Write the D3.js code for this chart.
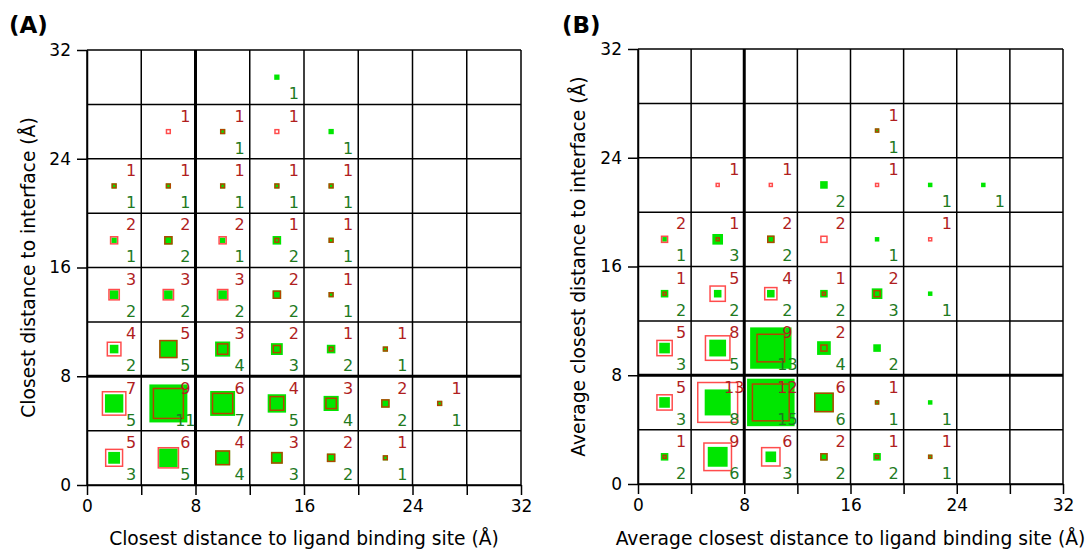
<!DOCTYPE html>
<html>
<head>
<meta charset="utf-8">
<script src="https://cdn.jsdelivr.net/npm/d3@7"></script>
<style>
    body { margin: 0; background: #fff; }
    text { font-family: "DejaVu Sans", sans-serif; }
</style>
</head>
<body>
<div id="chart"></div>
<script>

// bin centres along both axes (Å)
const binCentres = [2, 6, 10, 14, 18, 22, 26, 30];
const gridLines = [0, 4, 8, 12, 16, 20, 24, 28, 32];
const tickLabels = [0, 8, 16, 24, 32];

// counts per bin: rows run from y = 2 (bottom) up to y = 30 (top), columns x = 2 ... 30
const redA = [
    [5, 6, 4, 3, 2, 1, 0, 0],
    [7, 9, 6, 4, 3, 2, 1, 0],
    [4, 5, 3, 2, 1, 1, 0, 0],
    [3, 3, 3, 2, 1, 0, 0, 0],
    [2, 2, 2, 1, 1, 0, 0, 0],
    [1, 1, 1, 1, 1, 0, 0, 0],
    [0, 1, 1, 1, 0, 0, 0, 0],
    [0, 0, 0, 0, 0, 0, 0, 0]
];
const greenA = [
    [3, 5, 4, 3, 2, 1, 0, 0],
    [5, 11, 7, 5, 4, 2, 1, 0],
    [2, 5, 4, 3, 2, 1, 0, 0],
    [2, 2, 2, 2, 1, 0, 0, 0],
    [1, 2, 1, 2, 1, 0, 0, 0],
    [1, 1, 1, 1, 1, 0, 0, 0],
    [0, 0, 1, 0, 1, 0, 0, 0],
    [0, 0, 0, 1, 0, 0, 0, 0]
];
const redB = [
    [1, 9, 6, 2, 1, 1, 0, 0],
    [5, 13, 12, 6, 1, 0, 0, 0],
    [5, 8, 9, 2, 0, 0, 0, 0],
    [1, 5, 4, 1, 2, 0, 0, 0],
    [2, 1, 2, 2, 0, 1, 0, 0],
    [0, 1, 1, 0, 1, 0, 0, 0],
    [0, 0, 0, 0, 1, 0, 0, 0],
    [0, 0, 0, 0, 0, 0, 0, 0]
];
const greenB = [
    [2, 6, 3, 2, 2, 1, 0, 0],
    [3, 8, 15, 6, 1, 1, 0, 0],
    [3, 5, 13, 4, 2, 0, 0, 0],
    [2, 2, 2, 2, 3, 1, 0, 0],
    [1, 3, 2, 0, 1, 0, 0, 0],
    [0, 0, 0, 2, 0, 1, 1, 0],
    [0, 0, 0, 0, 1, 0, 0, 0],
    [0, 0, 0, 0, 0, 0, 0, 0]
];

const panelLetters = ["(A)", "(B)"];
const xTitles = ["Closest distance to ligand binding site (Å)", "Average closest distance to ligand binding site (Å)"];
const yTitles = ["Closest distance to interface (Å)", "Average closest distance to interface (Å)"];


class CountGrid {

    constructor(svg, red, green, opts) {
        this.svg = svg;
        this.red = red;
        this.green = green;
        this.opts = opts;
        this.initVis();
    }

    initVis() {
        let vis = this;
        let o = vis.opts;

        vis.x = d3.scaleLinear().domain([0, 32]).range([o.left, o.right]);
        vis.y = d3.scaleLinear().domain([0, 32]).range([o.bottom, o.top]);
        // outer side of a marker in px
        vis.size = d3.scaleLinear().domain([1, o.maxCount]).range([o.minSide, o.maxSide]);

        vis.g = vis.svg.append("g");

        // flatten the matrices into cells
        vis.cells = [];
        binCentres.forEach((cy, i) => {
            binCentres.forEach((cx, j) => {
                vis.cells.push({x: cx, y: cy, red: vis.red[i][j], green: vis.green[i][j]});
            });
        });

        vis.updateVis();
    }

    updateVis() {
        let vis = this;
        let o = vis.opts;
        let redStroke = 1.5;

        // grid
        vis.g.selectAll(".vline").data(gridLines).enter().append("line")
            .attr("x1", d => vis.x(d)).attr("x2", d => vis.x(d))
            .attr("y1", vis.y(0)).attr("y2", vis.y(32))
            .attr("stroke", "#000")
            .attr("stroke-width", d => d === 8 ? 3 : 1.5);
        vis.g.selectAll(".hline").data(gridLines).enter().append("line")
            .attr("y1", d => vis.y(d)).attr("y2", d => vis.y(d))
            .attr("x1", vis.x(0)).attr("x2", vis.x(32))
            .attr("stroke", "#000")
            .attr("stroke-width", d => d === 8 ? 3 : 1.5);

        // axes
        let xAxis = vis.g.append("g")
            .attr("transform", "translate(0," + vis.y(0) + ")")
            .call(d3.axisBottom(vis.x).tickValues(gridLines)
                .tickFormat(d => tickLabels.includes(d) ? d : "")
                .tickSize(10).tickSizeOuter(0).tickPadding(5));
        let yAxis = vis.g.append("g")
            .attr("transform", "translate(" + vis.x(0) + ",0)")
            .call(d3.axisLeft(vis.y).tickValues(tickLabels)
                .tickSize(10).tickSizeOuter(0).tickPadding(6));
        [xAxis, yAxis].forEach(a => {
            a.selectAll("path").attr("stroke-width", 1.5);
            a.selectAll("line").attr("stroke-width", 1.5);
            a.selectAll("text").attr("font-size", 17).attr("font-family", "DejaVu Sans").attr("fill", "#000");
        });

        // green filled squares underneath
        vis.g.selectAll(".green").data(vis.cells.filter(d => d.green > 0)).enter().append("rect")
            .attr("x", d => vis.x(d.x) - vis.size(d.green) / 2)
            .attr("y", d => vis.y(d.y) - vis.size(d.green) / 2)
            .attr("width", d => vis.size(d.green))
            .attr("height", d => vis.size(d.green))
            .attr("fill", "#00e600");

        // red open squares on top
        vis.g.selectAll(".red").data(vis.cells.filter(d => d.red > 0)).enter().append("rect")
            .attr("x", d => vis.x(d.x) - (vis.size(d.red) - redStroke) / 2)
            .attr("y", d => vis.y(d.y) - (vis.size(d.red) - redStroke) / 2)
            .attr("width", d => vis.size(d.red) - redStroke)
            .attr("height", d => vis.size(d.red) - redStroke)
            .attr("fill", "none")
            .attr("stroke", "red")
            .attr("stroke-opacity", 0.7)
            .attr("stroke-width", redStroke);

        // count labels
        vis.g.selectAll(".redLabel").data(vis.cells.filter(d => d.red > 0)).enter().append("text")
            .attr("x", d => vis.x(d.x + 1.25))
            .attr("y", d => vis.y(d.y + 1.15))
            .attr("dy", "0.36em")
            .attr("text-anchor", "middle")
            .attr("font-size", 16)
            .attr("fill", "#b01e1e")
            .text(d => d.red);
        vis.g.selectAll(".greenLabel").data(vis.cells.filter(d => d.green > 0)).enter().append("text")
            .attr("x", d => vis.x(d.x + 1.25))
            .attr("y", d => vis.y(d.y - 1.2))
            .attr("dy", "0.36em")
            .attr("text-anchor", "middle")
            .attr("font-size", 16)
            .attr("fill", "#1f7a1f")
            .text(d => d.green);

        // titles
        vis.g.append("text")
            .attr("x", (o.left + o.right) / 2)
            .attr("y", 545)
            .attr("text-anchor", "middle")
            .attr("font-size", 18.7)
            .text(o.xTitle);
        vis.g.append("text")
            .attr("transform", "translate(" + o.yTitleX + "," + (o.top + o.bottom) / 2 + ") rotate(-90)")
            .attr("text-anchor", "middle")
            .attr("font-size", 18.7)
            .text(o.yTitle);
        vis.g.append("text")
            .attr("x", o.letterX)
            .attr("y", 33)
            .attr("font-size", 23)
            .attr("font-weight", "bold")
            .text(o.letter);
    }
}

let svg = d3.select("#chart").append("svg")
    .attr("width", 1090)
    .attr("height", 550);

new CountGrid(svg, redA, greenA, {
    left: 87, right: 521, top: 50, bottom: 485,
    maxCount: 11, minSide: 5.3, maxSide: 38,
    xTitle: xTitles[0], yTitle: yTitles[0], yTitleX: 35,
    letter: panelLetters[0], letterX: 9
});
new CountGrid(svg, redB, greenB, {
    left: 638, right: 1063, top: 49, bottom: 484,
    maxCount: 15, minSide: 4.5, maxSide: 47.5,
    xTitle: xTitles[1], yTitle: yTitles[1], yTitleX: 585,
    letter: panelLetters[1], letterX: 562
});

</script>
</body>
</html>
